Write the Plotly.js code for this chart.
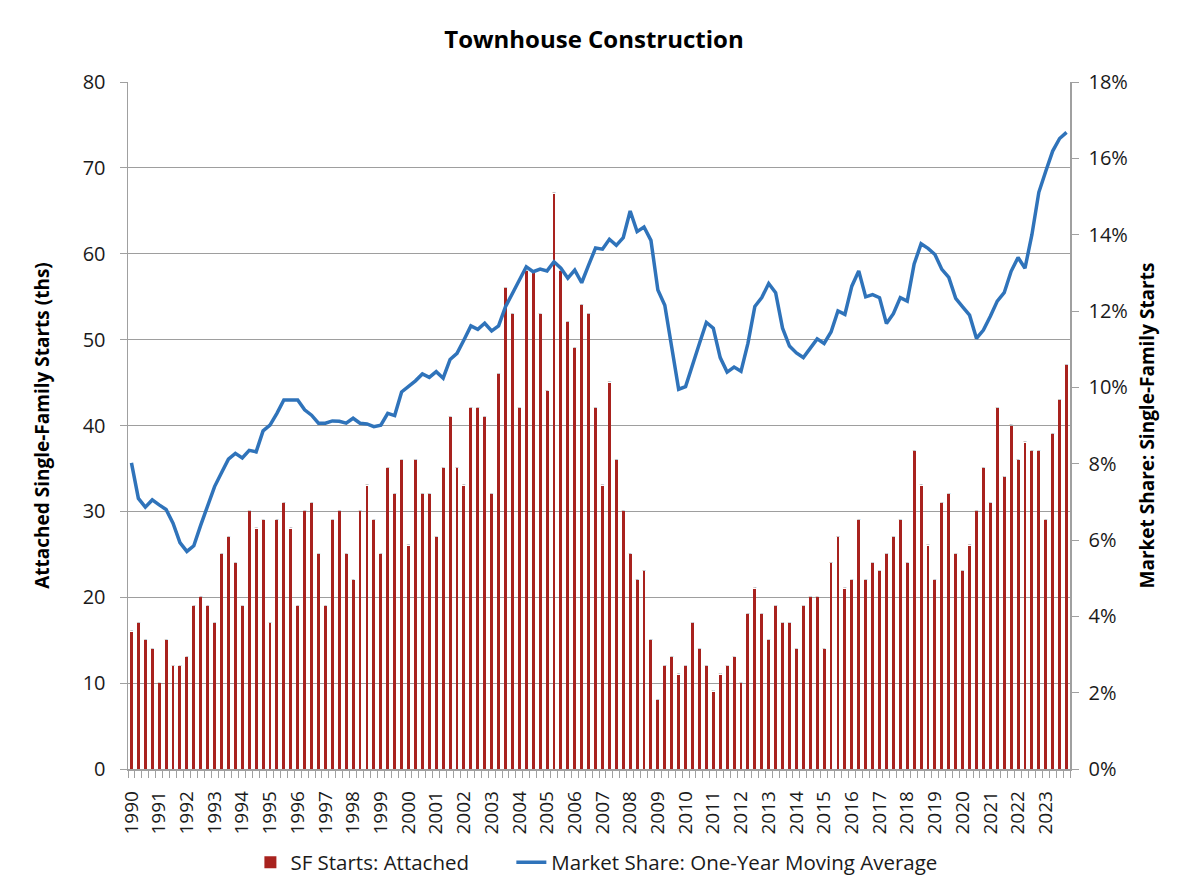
<!DOCTYPE html>
<html>
<head>
<meta charset="utf-8">
<script src="https://cdn.plot.ly/plotly-3.0.1.min.js"></script>
<style>
    html, body { margin: 0; padding: 0; background: #ffffff; }
    #chart { width: 1200px; height: 889px; }
</style>
</head>
<body>
<div id="chart"></div>
<script>
// Quarterly data, 1990 Q1 .. 2023 Q4
const years = [1990, 1991, 1992, 1993, 1994, 1995, 1996, 1997, 1998, 1999,
    2000, 2001, 2002, 2003, 2004, 2005, 2006, 2007, 2008, 2009,
    2010, 2011, 2012, 2013, 2014, 2015, 2016, 2017, 2018, 2019,
    2020, 2021, 2022, 2023]
const quarters = ["Q1", "Q2", "Q3", "Q4"]

// SF Starts: Attached (thousands), one value per quarter
const attachedStarts = [
    16, 17, 15, 14,   10, 15, 12, 12,   13, 19, 20, 19,   17, 25, 27, 24,
    19, 30, 28, 29,   17, 29, 31, 28,   19, 30, 31, 25,   19, 29, 30, 25,
    22, 30, 33, 29,   25, 35, 32, 36,   26, 36, 32, 32,   27, 35, 41, 35,
    33, 42, 42, 41,   32, 46, 56, 53,   42, 58, 58, 53,   44, 67, 58, 52,
    49, 54, 53, 42,   33, 45, 36, 30,   25, 22, 23, 15,    8, 12, 13, 11,
    12, 17, 14, 12,    9, 11, 12, 13,   10, 18, 21, 18,   15, 19, 17, 17,
    14, 19, 20, 20,   14, 24, 27, 21,   22, 29, 22, 24,   23, 25, 27, 29,
    24, 37, 33, 26,   22, 31, 32, 25,   23, 26, 30, 35,   31, 42, 34, 40,
    36, 38, 37, 37,   29, 39, 43, 47
]

// Market Share: One-Year Moving Average (% of single-family starts)
const marketShare = [
    8.02, 7.09, 6.86, 7.05,   6.92, 6.80, 6.44, 5.93,   5.70, 5.85, 6.39, 6.89,
    7.40, 7.76, 8.12, 8.27,   8.15, 8.35, 8.31, 8.86,   9.01, 9.32, 9.67, 9.67,
    9.67, 9.41, 9.27, 9.06,   9.06, 9.12, 9.11, 9.06,   9.19, 9.06, 9.04, 8.97,
    9.01, 9.32, 9.26, 9.88,   10.03, 10.17, 10.35, 10.26,   10.41, 10.24, 10.73, 10.89,
    11.24, 11.61, 11.52, 11.68,   11.48, 11.61, 12.11, 12.46,   12.81, 13.16, 13.03, 13.10,
    13.05, 13.29, 13.12, 12.86,   13.07, 12.74, 13.20, 13.65,   13.62, 13.88, 13.72, 13.92,
    14.62, 14.08, 14.20, 13.85,   12.55, 12.15, 11.05, 9.95,   10.02, 10.55, 11.15, 11.70,
    11.55, 10.78, 10.40, 10.53,   10.42, 11.15, 12.12, 12.35,   12.72, 12.48, 11.55, 11.08,
    10.90, 10.78, 11.03, 11.27,   11.15, 11.45, 12.00, 11.91,   12.65, 13.05, 12.37, 12.43,
    12.35, 11.67, 11.93, 12.35,   12.26, 13.23, 13.76, 13.64,   13.48, 13.09, 12.88, 12.33,
    12.11, 11.89, 11.28, 11.50,   11.86, 12.26, 12.48, 13.04,   13.40, 13.12, 14.00, 15.11,
    15.66, 16.19, 16.52, 16.68
]

const FONT = "'Open Sans', 'Noto Sans', sans-serif"
const TEXT_COLOR = "#1a1a1a"
const AXIS_GREY = "#a0a0a0"

// x positions are the quarter index; year labels sit on each Q1
const quarterLabels = years.flatMap((year) => quarters.map((q) => year + " " + q))
const xIndex = quarterLabels.map((label, i) => i)
const yearTickVals = years.map((year, i) => i * quarters.length)
const yearTickText = years.map((year) => year.toString())

const traces = [
    {
        x: xIndex,
        y: attachedStarts,
        text: quarterLabels,
        type: "bar",
        // trailing spaces widen the gap to the next legend entry
        name: "SF Starts: Attached\u00a0\u00a0\u00a0\u00a0\u00a0\u00a0\u00a0",
        width: 0.42,
        marker: {color: "#a8221e"},
        hovertemplate: "%{text}: %{y}<extra></extra>"
    },
    {
        x: xIndex,
        y: marketShare.map((v) => v / 100),
        text: quarterLabels,
        type: "scatter",
        mode: "lines",
        name: "Market Share: One-Year Moving Average",
        yaxis: "y2",
        line: {color: "#2f73ba", width: 3.5},
        hovertemplate: "%{text}: %{y:.1%}<extra></extra>"
    }
]

const layout = {
    width: 1200,
    height: 889,
    paper_bgcolor: "#ffffff",
    plot_bgcolor: "#ffffff",
    font: {family: FONT, color: TEXT_COLOR, size: 19},
    margin: {l: 128, r: 130, t: 82, b: 120},
    title: {
        text: "<b>Townhouse Construction</b>",
        font: {family: FONT, size: 24, color: "#000000"},
        x: 0.495,
        xanchor: "center",
        xref: "container",
        y: 0.955,
        yanchor: "middle",
        yref: "container"
    },
    showlegend: true,
    legend: {
        orientation: "h",
        x: 0.497,
        xanchor: "center",
        xref: "container",
        y: 0.03,
        yanchor: "middle",
        yref: "container",
        font: {family: FONT, size: 20.5, color: TEXT_COLOR},
        itemwidth: 30,
        traceorder: "normal"
    },
    bargap: 0,
    xaxis: {
        range: [-0.5, attachedStarts.length - 0.5],
        tickmode: "array",
        tickvals: yearTickVals,
        ticktext: yearTickText,
        tickangle: -90,
        ticks: "",
        ticklabelstandoff: 13,
        tickfont: {family: FONT, size: 19, color: TEXT_COLOR},
        minor: {
            ticks: "outside",
            ticklen: 7,
            tickcolor: AXIS_GREY,
            dtick: 1,
            tick0: -0.5,
            showgrid: false
        },
        showgrid: false,
        showline: true,
        linecolor: AXIS_GREY,
        linewidth: 1.5,
        zeroline: false,
        automargin: false,
        fixedrange: true
    },
    yaxis: {
        range: [0, 80],
        dtick: 10,
        ticks: "outside",
        ticklen: 7,
        tickcolor: AXIS_GREY,
        ticklabelstandoff: 10,
        tickfont: {family: FONT, size: 20, color: TEXT_COLOR},
        showgrid: true,
        gridcolor: "#9e9e9e",
        gridwidth: 1,
        showline: true,
        linecolor: AXIS_GREY,
        linewidth: 1.5,
        zeroline: false,
        layer: "below traces",
        title: {
            text: "<b>Attached Single-Family Starts (ths)</b>",
            font: {family: FONT, size: 19, color: "#000000"},
            standoff: 28
        },
        automargin: false
    },
    yaxis2: {
        range: [0, 0.18],
        dtick: 0.02,
        tickformat: ".0%",
        overlaying: "y",
        side: "right",
        ticks: "outside",
        ticklen: 7,
        tickcolor: AXIS_GREY,
        ticklabelstandoff: 6,
        tickfont: {family: FONT, size: 20, color: TEXT_COLOR},
        showgrid: false,
        showline: true,
        linecolor: AXIS_GREY,
        linewidth: 1.5,
        zeroline: false,
        title: {
            text: "<b>Market Share: Single-Family Starts</b>",
            font: {family: FONT, size: 19, color: "#000000"},
            standoff: 14
        },
        automargin: false
    }
}

Plotly.newPlot("chart", traces, layout, {displayModeBar: false, staticPlot: true})
</script>
</body>
</html>
